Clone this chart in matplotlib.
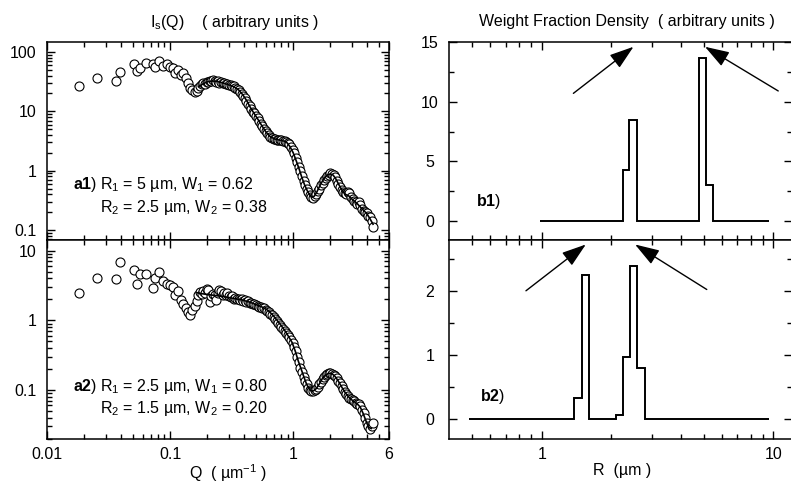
import matplotlib
matplotlib.use("Agg")
import matplotlib.pyplot as plt
from matplotlib.ticker import FixedLocator, FuncFormatter, LogLocator, NullFormatter

plt.rcParams["font.family"] = ["Liberation Sans", "DejaVu Sans"]
plt.rcParams["font.size"] = 11.5
plt.rcParams["mathtext.fontset"] = "custom"
plt.rcParams["mathtext.rm"] = "Liberation Sans"
plt.rcParams["mathtext.it"] = "Liberation Sans:italic"
plt.rcParams["mathtext.bf"] = "Liberation Sans:bold"
plt.rcParams["mathtext.default"] = "regular"

# ---------------------------------------------------------------- data
# measured scattering vector grid (um^-1), shared by both samples
Q_meas = [
    0.0182, 0.0254, 0.0364, 0.0394, 0.0509, 0.0536, 0.0566, 0.0638, 0.0723,
    0.0748, 0.0814, 0.0880, 0.0935, 0.0990, 0.1050, 0.1100, 0.1160, 0.1220,
    0.1280, 0.1340, 0.1400, 0.1460, 0.1520, 0.1580, 0.1640,
    0.170, 0.175, 0.181, 0.186, 0.192, 0.198, 0.204, 0.210, 0.216, 0.223,
    0.230, 0.237, 0.244, 0.251, 0.259, 0.267, 0.275, 0.283, 0.292, 0.301,
    0.310, 0.319, 0.329, 0.339, 0.349, 0.360, 0.371, 0.382, 0.393, 0.405,
    0.417, 0.430, 0.443, 0.456, 0.470, 0.484, 0.499, 0.514, 0.529, 0.545,
    0.562, 0.579, 0.596, 0.614, 0.633, 0.652, 0.671, 0.692, 0.712, 0.734,
    0.756, 0.778, 0.802, 0.826, 0.851, 0.876, 0.903, 0.930, 0.958, 0.987,
    1.016, 1.047, 1.078, 1.111, 1.144, 1.178, 1.214, 1.250, 1.288, 1.326,
    1.366, 1.407, 1.449, 1.493, 1.538, 1.584, 1.631, 1.680, 1.731, 1.783,
    1.836, 1.891, 1.948, 2.007, 2.067, 2.129, 2.193, 2.259, 2.326, 2.396,
    2.468, 2.542, 2.618, 2.697, 2.778, 2.861, 2.947, 3.035, 3.126, 3.220,
    3.317, 3.416, 3.519, 3.624, 3.733, 3.845, 3.960, 4.079, 4.201, 4.327,
    4.450,
]

# sample 1: R1 = 5 um / R2 = 2.5 um
I_a1 = [
    27, 37, 32, 46, 62, 48, 53, 66, 62,
    55, 70, 59, 62, 56, 54, 45, 50, 41,
    44, 36, 30, 25, 23, 21, 22,
    25, 27, 28.5, 30, 29, 31.5, 31, 33, 32, 33.5,
    32, 31, 33, 30.5, 31.5, 29.5, 30.5, 28.5, 29, 27.5,
    28, 26.5, 26.5, 25, 24, 22.5, 21, 19.5, 18, 16.5,
    15, 13.5, 12.2, 11, 9.9, 9.2, 8.3, 7.6, 6.9, 6.1,
    5.6, 5.0, 4.6, 4.3, 3.95, 3.7, 3.55, 3.45, 3.38, 3.3,
    3.32, 3.25, 3.28, 3.2, 3.2, 3.1, 2.95, 2.8, 2.55, 2.25,
    1.95, 1.65, 1.4, 1.15, 0.97, 0.80, 0.67, 0.57, 0.49, 0.44,
    0.39, 0.36, 0.35, 0.37, 0.40, 0.45, 0.50, 0.57, 0.63, 0.70,
    0.76, 0.82, 0.86, 0.90, 0.87, 0.84, 0.77, 0.68, 0.60, 0.53,
    0.48, 0.44, 0.42, 0.40, 0.43, 0.42, 0.36, 0.33, 0.31, 0.30,
    0.27, 0.30, 0.26, 0.23, 0.21, 0.20, 0.19, 0.17, 0.165, 0.14,
    0.11,
]

# sample 2: R1 = 2.5 um / R2 = 1.5 um
I_a2 = [
    2.45, 4.0, 3.95, 6.9, 5.3, 3.3, 4.7, 4.7, 2.95,
    4.0, 4.9, 3.7, 3.3, 3.2, 3.05, 2.3, 2.65, 1.95,
    1.7, 1.5, 1.3, 1.19, 1.4, 1.6, 1.9,
    2.3, 2.55, 2.4, 2.6, 2.5, 2.85, 2.7, 1.85, 2.2, 2.4,
    2.3, 1.95, 2.5, 2.75, 2.6, 2.35, 2.5, 2.3, 2.45, 2.2,
    2.15, 2.2, 2.05, 2.1, 2.0, 2.05, 1.95, 2.0, 1.9, 1.95,
    1.85, 1.88, 1.8, 1.78, 1.72, 1.7, 1.65, 1.62, 1.58, 1.55,
    1.5, 1.48, 1.42, 1.38, 1.32, 1.25, 1.18, 1.12, 1.05, 0.98,
    0.92, 0.86, 0.81, 0.76, 0.71, 0.66, 0.61, 0.57, 0.52, 0.48,
    0.42, 0.36, 0.30, 0.25, 0.21, 0.18, 0.155, 0.135, 0.12, 0.108,
    0.100, 0.096, 0.096, 0.099, 0.104, 0.111, 0.12, 0.13, 0.142, 0.152,
    0.162, 0.168, 0.173, 0.174, 0.172, 0.165, 0.157, 0.147, 0.136, 0.125,
    0.113, 0.103, 0.094, 0.087, 0.082, 0.078, 0.074, 0.071, 0.069, 0.066,
    0.064, 0.062, 0.058, 0.052, 0.046, 0.040, 0.034, 0.030, 0.028, 0.030,
    0.034,
]

# model fits
Q_fit_a1 = [
    0.17, 0.185, 0.20, 0.22, 0.24, 0.27, 0.30, 0.33, 0.36, 0.39, 0.42,
    0.45, 0.48, 0.52, 0.56, 0.60, 0.65, 0.70, 0.76, 0.82, 0.88, 0.94,
    1.00, 1.06, 1.12, 1.18, 1.24, 1.30, 1.36, 1.42, 1.48, 1.55, 1.62,
    1.70, 1.80, 1.90, 2.00, 2.10, 2.20, 2.33, 2.47, 2.65, 2.85, 3.05,
    3.30, 3.60, 3.95, 4.20, 4.45,
]
I_fit_a1 = [
    26, 29, 31.5, 32.5, 32, 30, 28, 26, 23, 19, 15,
    11.5, 9.3, 7.2, 5.6, 4.5, 3.75, 3.45, 3.3, 3.2, 3.05, 2.55,
    2.0, 1.45, 1.05, 0.75, 0.57, 0.46, 0.39, 0.355, 0.37, 0.43, 0.52,
    0.63, 0.76, 0.85, 0.88, 0.85, 0.75, 0.60, 0.48, 0.40, 0.37, 0.32,
    0.28, 0.23, 0.19, 0.155, 0.125,
]

Q_fit_a2 = [
    0.165, 0.18, 0.20, 0.23, 0.27, 0.32, 0.38, 0.44, 0.50, 0.56, 0.62,
    0.68, 0.74, 0.80, 0.86, 0.92, 0.98, 1.04, 1.10, 1.16, 1.22, 1.28,
    1.34, 1.40, 1.46, 1.54, 1.62, 1.72, 1.82, 1.94, 2.06, 2.18, 2.32,
    2.48, 2.65, 2.85, 3.05, 3.29, 3.50, 3.70, 3.90, 4.10, 4.30,
]
I_fit_a2 = [
    2.5, 2.42, 2.35, 2.28, 2.2, 2.08, 1.97, 1.83, 1.68, 1.55, 1.40,
    1.2, 1.0, 0.84, 0.70, 0.58, 0.48, 0.36, 0.26, 0.20, 0.155, 0.123,
    0.105, 0.097, 0.097, 0.105, 0.120, 0.145, 0.163, 0.174, 0.172, 0.158, 0.135,
    0.110, 0.091, 0.078, 0.070, 0.064, 0.057, 0.046, 0.036, 0.029, 0.028,
]

# recovered weight fraction densities (bin edges in um, bin heights)
R_edges_b1 = [0.98, 2.24, 2.39, 2.58, 4.78, 5.12, 5.51, 9.58]
W_b1 = [0, 4.3, 8.5, 0, 13.7, 3.0, 0]

R_edges_b2 = [0.487, 1.38, 1.49, 1.60, 2.09, 2.24, 2.40, 2.59, 2.79, 2.95, 9.58]
W_b2 = [0, 0.33, 2.25, 0, 0.07, 0.97, 2.38, 0.8, 0.01, 0]

# arrows marking the true radii: (tail, head)
arrows_b1 = [((1.37, 10.7), (2.49, 14.6)), ((10.5, 10.9), (5.07, 14.6))]
arrows_b2 = [((0.855, 2.0), (1.55, 2.72)), ((5.16, 2.02), (2.53, 2.72))]

# ---------------------------------------------------------------- figure
W, H = 791, 483
fig = plt.figure(figsize=(W / 100, H / 100), dpi=100)


def px_axes(x0, y0, x1, y1):
    return fig.add_axes([x0 / W, (H - y1) / H, (x1 - x0) / W, (y1 - y0) / H])


ax_a1 = px_axes(47, 42, 389, 240)
ax_a2 = px_axes(47, 240, 389, 439.3)
ax_b1 = px_axes(449.3, 42, 792, 240)
ax_b2 = px_axes(449.3, 240, 792, 439.3)

gfmt = FuncFormatter(lambda v, _: f"{v:g}")


def common_ticks(ax):
    for s in ax.spines.values():
        s.set_linewidth(1.1)
    ax.tick_params(which="both", direction="in", top=True, right=True,
                   width=1.0, labelsize=11.5)
    ax.tick_params(which="major", length=6)
    ax.tick_params(which="minor", length=3.5)


for ax, I, Qf, If, ylim in [
    (ax_a1, I_a1, Q_fit_a1, I_fit_a1, (0.0677, 147.7)),
    (ax_a2, I_a2, Q_fit_a2, I_fit_a2, (0.0196, 14.24)),
]:
    ax.plot(Q_meas, I, "o", ms=6.5, mfc="white", mec="black", mew=0.8,
            zorder=2)
    ax.plot(Qf, If, "-", color="black", lw=1.2, zorder=3)
    ax.set_xscale("log")
    ax.set_yscale("log")
    ax.set_xlim(0.01, 6)
    ax.set_ylim(*ylim)
    common_ticks(ax)
    ax.tick_params(axis="y", pad=7.5)
    ax.tick_params(axis="x", pad=5.5)
    ax.xaxis.set_major_locator(FixedLocator([0.01, 0.1, 1, 6]))
    ax.xaxis.set_minor_locator(LogLocator(base=10, subs=range(2, 10), numticks=20))
    ax.xaxis.set_minor_formatter(NullFormatter())
    ax.yaxis.set_major_locator(LogLocator(base=10, numticks=20))
    ax.yaxis.set_minor_locator(LogLocator(base=10, subs=range(2, 10), numticks=20))
    ax.yaxis.set_minor_formatter(NullFormatter())
    ax.xaxis.set_major_formatter(gfmt)
    ax.yaxis.set_major_formatter(gfmt)

ax_a1.tick_params(axis="x", labelbottom=False)

ax_a1.text(0.076, 0.278, r"$\mathbf{a1}$)", transform=ax_a1.transAxes, va="center")
ax_a1.text(0.155, 0.278, r"R$_1$ = 5 µm, W$_1$ = 0.62", transform=ax_a1.transAxes, va="center")
ax_a1.text(0.155, 0.162, r"R$_2$ = 2.5 µm, W$_2$ = 0.38", transform=ax_a1.transAxes, va="center")

ax_a2.text(0.076, 0.263, r"$\mathbf{a2}$)", transform=ax_a2.transAxes, va="center")
ax_a2.text(0.155, 0.263, r"R$_1$ = 2.5 µm, W$_1$ = 0.80", transform=ax_a2.transAxes, va="center")
ax_a2.text(0.155, 0.156, r"R$_2$ = 1.5 µm, W$_2$ = 0.20", transform=ax_a2.transAxes, va="center")

# weight fraction density panels
for ax, edges, heights, ylim, major, minor, arrows in [
    (ax_b1, R_edges_b1, W_b1, (-1.58, 14.95), [0, 5, 10, 15],
     [2.5, 7.5, 12.5], arrows_b1),
    (ax_b2, R_edges_b2, W_b2, (-0.31, 2.79), [0, 1, 2],
     [0.5, 1.5, 2.5], arrows_b2),
]:
    ax.stairs(heights, edges, baseline=None, color="black", lw=1.4)
    ax.set_xscale("log")
    ax.set_xlim(0.399, 12.04)
    ax.set_ylim(*ylim)
    common_ticks(ax)
    ax.tick_params(axis="x", pad=5.5)
    ax.tick_params(axis="y", pad=14)
    ax.xaxis.set_major_locator(FixedLocator([1, 10]))
    ax.xaxis.set_minor_locator(FixedLocator([0.5, 0.6, 0.7, 0.8, 0.9,
                                             2, 3, 4, 5, 6, 7, 8, 9]))
    ax.xaxis.set_major_formatter(gfmt)
    ax.xaxis.set_minor_formatter(NullFormatter())
    ax.set_yticks(major)
    ax.set_yticks(minor, minor=True)
    ax.yaxis.set_major_formatter(gfmt)
    for lab in ax.get_yticklabels():
        lab.set_horizontalalignment("center")
    for tail, head in arrows:
        ax.annotate("", xy=head, xytext=tail,
                    arrowprops=dict(arrowstyle="-|>,head_length=1.5,head_width=0.5",
                                    mutation_scale=10, color="black", lw=1.0,
                                    shrinkA=0, shrinkB=0))

ax_b1.tick_params(axis="x", labelbottom=False)
ax_b1.text(0.079, 0.193, r"$\mathbf{b1}$)", transform=ax_b1.transAxes, va="center")
ax_b2.text(0.09, 0.213, r"$\mathbf{b2}$)", transform=ax_b2.transAxes, va="center")

fig.text(235 / W, 1 - 22 / H, r"I$_s$(Q)    ( arbitrary units )",
         ha="center", va="center")
fig.text(626.5 / W, 1 - 21.7 / H, "Weight Fraction Density  ( arbitrary units )",
         ha="center", va="center")
fig.text(228 / W, 1 - 473.5 / H, r"Q  ( µm$^{-1}$ )", ha="center", va="center")
fig.text(622 / W, 1 - 471 / H, "R  (µm )", ha="center", va="center")

fig.savefig("out.png", dpi=100)
